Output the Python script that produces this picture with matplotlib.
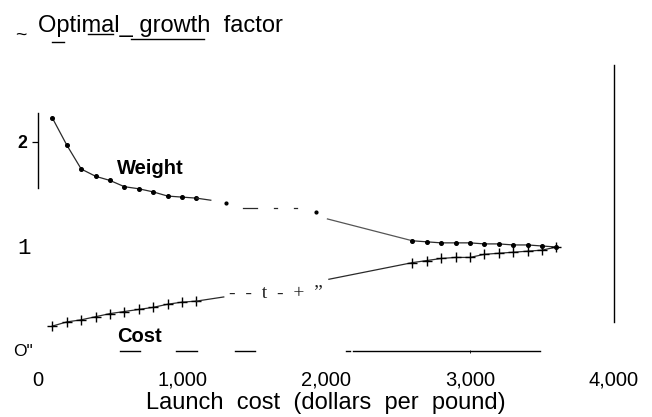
import matplotlib
matplotlib.use("Agg")
import matplotlib.pyplot as plt
from matplotlib.lines import Line2D

# ---------------- data ----------------
weight_x1 = [100, 200, 300, 400, 500, 600, 700, 800, 900, 1000, 1100]
weight_y1 = [2.23, 1.97, 1.74, 1.67, 1.63, 1.57, 1.55, 1.52, 1.48, 1.47, 1.46]
weight_x2 = [2600, 2700, 2800, 2900, 3000, 3100, 3200, 3300, 3400, 3500, 3600]
weight_y2 = [1.05, 1.04, 1.03, 1.03, 1.03, 1.02, 1.02, 1.01, 1.01, 1.00, 0.99]

cost_x1 = [100, 200, 300, 400, 500, 600, 700, 800, 900, 1000, 1100]
cost_y1 = [0.23, 0.27, 0.29, 0.32, 0.35, 0.37, 0.39, 0.41, 0.44, 0.46, 0.47]
cost_x2 = [2600, 2700, 2800, 2900, 3000, 3100, 3200, 3300, 3400, 3500, 3600]
cost_y2 = [0.84, 0.86, 0.88, 0.89, 0.89, 0.92, 0.93, 0.94, 0.95, 0.96, 0.99]

# line remnants between the marked points (the scan lost parts of the curves)
weight_link_x = [1100, 1200]
weight_link_y = [1.46, 1.44]
weight_tail_x = [2010, 2600]
weight_tail_y = [1.26, 1.05]
weight_gap_dash_x = [(1424, 1520), (1639, 1660), (1778, 1799)]
weight_gap_dash_y = [1.365, 1.365, 1.365]
weight_gap_dot_x = [1306, 1930]
weight_gap_dot_y = [1.41, 1.33]

cost_link_x = [1100, 1290]
cost_link_y = [0.47, 0.51]
cost_tail_x = [2020, 2600]
cost_tail_y = [0.68, 0.84]

# broken baseline of the scan
base_segments = [(569, 708), (960, 1104), (1368, 1507), (2139, 2167), (2188, 3486)]
base_y = -0.014

xtick_vals = [0, 1000, 2000, 3000, 4000]
xtick_labels = ["0", "1,000", "2,000", "3,000", "4,000"]
ytick_vals = [0, 1, 2]
ytick_labels = ['O"', "1", "2"]

# ---------------- figure ----------------
W, H = 652, 417
fig = plt.figure(figsize=(W / 100, H / 100), dpi=100)
ax = fig.add_axes([38 / W, 67 / H, 576 / W, 285 / H])
ax.set_xlim(0, 4000)
ax.set_ylim(0, 2.74)
for s in ax.spines.values():
    s.set_visible(False)

lc = "#2a2a2a"
lw = 0.9

# Weight
ax.plot(weight_x1, weight_y1, color=lc, lw=lw, marker="o", ms=2.6, mfc="k", mec="k", clip_on=False)
ax.plot(weight_link_x, weight_link_y, color=lc, lw=lw, clip_on=False)
for (a, b), yy in zip(weight_gap_dash_x, weight_gap_dash_y):
    ax.plot([a, b], [yy, yy], color=lc, lw=lw, clip_on=False)
ax.plot(weight_gap_dot_x, weight_gap_dot_y, ls="none", marker="o", ms=2.0, color="k", clip_on=False)
ax.plot(weight_tail_x, weight_tail_y, color="#555555", lw=lw, clip_on=False)
ax.plot(weight_x2, weight_y2, color=lc, lw=lw, marker="o", ms=2.6, mfc="k", mec="k", clip_on=False)

# Cost
ax.plot(cost_x1, cost_y1, color=lc, lw=lw, marker="+", ms=7, mew=1.0, mec="k", clip_on=False)
ax.plot(cost_link_x, cost_link_y, color=lc, lw=lw, clip_on=False)
ax.plot(cost_tail_x, cost_tail_y, color=lc, lw=lw, clip_on=False)
ax.plot(cost_x2, cost_y2, color=lc, lw=lw, marker="+", ms=7, mew=1.0, mec="k", clip_on=False)

# frame remnants
ax.plot([0, 0], [1.56, 2.28], color="k", lw=1.0, clip_on=False)
ax.plot([4000, 4000], [0.27, 2.74], color="k", lw=1.0, clip_on=False)
for a, b in base_segments:
    ax.plot([a, b], [base_y, base_y], color="k", lw=1.0, clip_on=False)

# scan artefact text in the cost gap
ax.text(1326, 0.548, "-  -  t  -  +  \u201d", fontsize=14, family="Liberation Serif",
        va="center", ha="left", color="#222222")

# series labels
ax.text(551, 1.692, "Weight", fontsize=14.5, fontweight="bold", family="Liberation Sans",
        ha="left", va="baseline")
ax.text(551, 0.080, "Cost", fontsize=14.5, fontweight="bold", family="Liberation Sans",
        ha="left", va="baseline")

# ticks
ax.set_xticks(xtick_vals, labels=xtick_labels)
ax.tick_params(axis="x", length=2.0, width=0.6, pad=13, labelsize=14.5)
for lab in ax.get_xticklabels():
    lab.set_family("Liberation Sans")
for i, t in enumerate(ax.xaxis.get_major_ticks()):
    if xtick_vals[i] != 3000:
        t.tick1line.set_visible(False)

ax.set_yticks(ytick_vals, labels=ytick_labels)
ax.tick_params(axis="y", length=4.3, width=0.9)
yt = ax.yaxis.get_major_ticks()
ylab = ax.get_yticklabels()
ylab[0].set_family("Liberation Sans"); ylab[0].set_fontsize(12.5)
ylab[1].set_family("Liberation Mono"); ylab[1].set_fontsize(16)
ylab[2].set_family("Liberation Sans"); ylab[2].set_fontsize(12.7); ylab[2].set_fontweight("bold")
yt[0].tick1line.set_visible(False); yt[0].set_pad(-0.6)
yt[1].tick1line.set_visible(False); yt[1].set_pad(0.8)
yt[2].set_pad(3.5)

ax.set_xlabel("Launch  cost  (dollars  per  pound)", fontsize=17, family="Liberation Sans", labelpad=1.5)

# title with scan underlines
fig.text(37.7 / W, 1 - 31.7 / H, "Optimal_ growth  factor", fontsize=17,
         family="Liberation Sans", ha="left", va="baseline")
fig.text(21 / W, 1 - 40 / H, "~", fontsize=14, family="Liberation Sans", ha="center", va="baseline")
for x0, x1, yy in [(51.7, 64.3, 41.7), (88, 113, 33.5), (131, 204, 39.3)]:
    fig.add_artist(Line2D([x0 / W, x1 / W], [1 - yy / H, 1 - yy / H], transform=fig.transFigure,
                          color="k", lw=1.0))

fig.savefig("out.png", dpi=100)
